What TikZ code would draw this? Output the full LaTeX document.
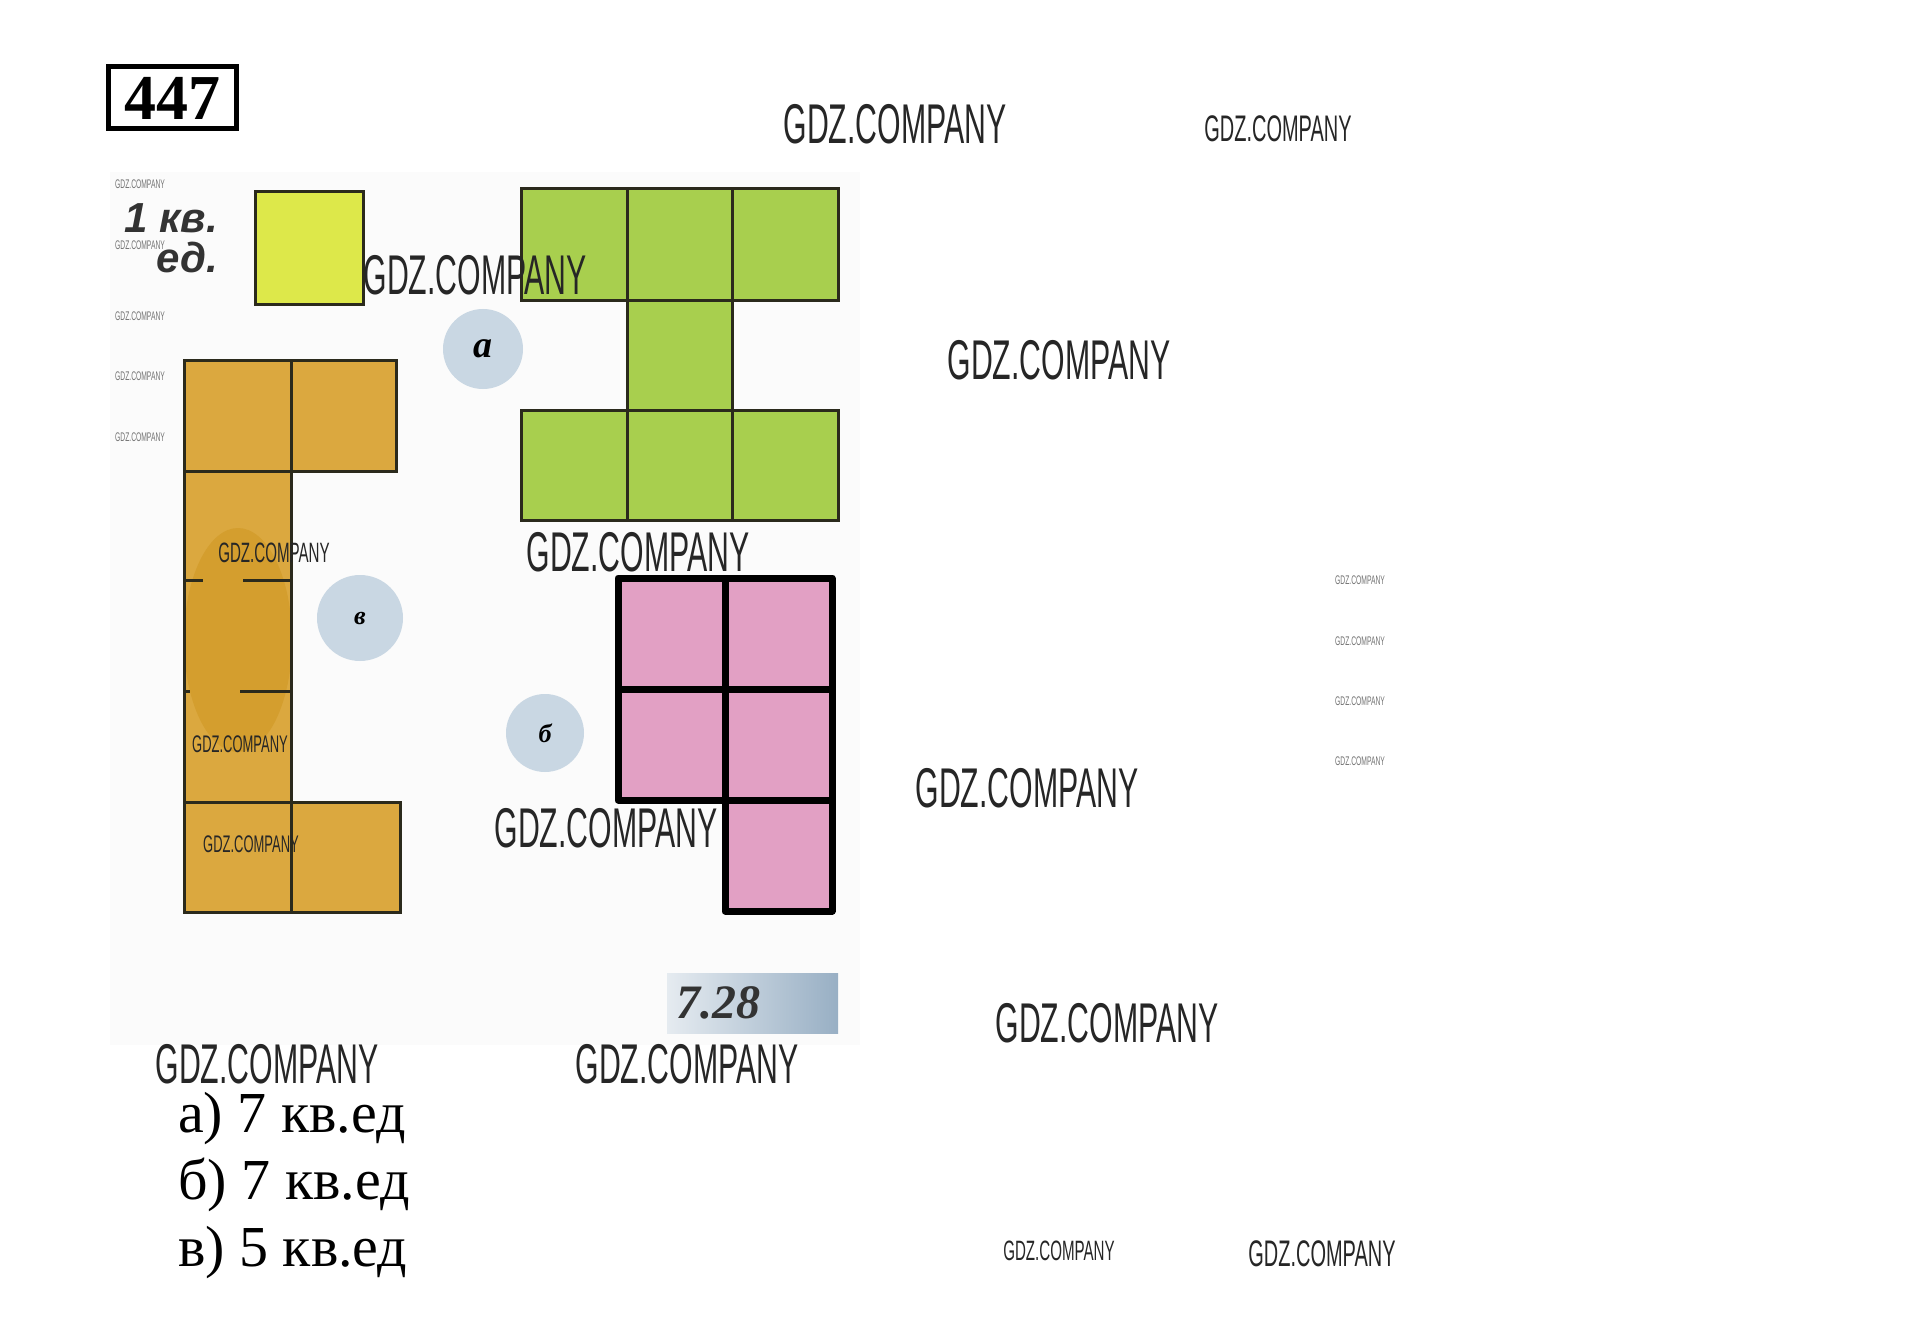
\documentclass[tikz,border=0pt]{standalone}
\usepackage{fontspec}
\setmainfont{Liberation Serif}
\newfontfamily\wmfont[FakeStretch=0.54]{Liberation Sans}
\newfontfamily\headsans{Liberation Sans}
\newcommand{\setfs}[1]{\fontsize{#1}{#1}\selectfont}
\definecolor{unitfill}{HTML}{DDE84A}
\definecolor{afill}{HTML}{A8CF4E}
\definecolor{vfill}{HTML}{DBA83F}
\definecolor{vblob}{HTML}{D49E2E}
\definecolor{bfill}{HTML}{E2A0C4}
\definecolor{tagfill}{HTML}{C9D7E3}
\definecolor{tagbar}{HTML}{98AFC4}
\definecolor{cellline}{HTML}{2B2A1C}

\begin{document}
\begin{tikzpicture}[x=1pt, y=-1pt,
    cell/.style = {draw=cellline, line width=3pt},
    bcell/.style = {draw=black, line width=7pt, line join=round},
    tagdot/.style = {circle, fill=tagfill, minimum size=#1, inner sep=0pt},
    wmbig/.style = {font=\wmfont\setfs{56}, text=black!85, inner sep=0pt},
    wmmid/.style = {font=\wmfont\setfs{37}, text=black!85, inner sep=0pt},
    wmsmall/.style = {font=\wmfont\setfs{28}, text=black!85, inner sep=0pt},
    wmless/.style = {font=\wmfont\setfs{24}, text=black!85, inner sep=0pt},
    wmtiny/.style = {font=\wmfont\setfs{12.5}, text=black!55, inner sep=0pt},
    answer/.style = {font=\setfs{58}, anchor=base west, inner sep=0pt}]
  \useasboundingbox (0,0) rectangle (1928,1340);
  \fill[white] (0,0) rectangle (1928,1340);
  \fill[black!1.5] (110,172) rectangle (860,1045);

  % number of the task
  \node[draw, line width=5pt, minimum width=128pt, minimum height=62pt,
        inner sep=0pt, font=\bfseries\setfs{64}] (task) at (172,98) {447};

  % unit square
  \node[anchor=base east, inner sep=0pt, text=black!80,
        font=\headsans\bfseries\itshape\setfs{42}] (unit1) at (218,233) {1 кв.};
  \node[anchor=base east, inner sep=0pt, text=black!80,
        font=\headsans\bfseries\itshape\setfs{42}] (unit2) at (218,273) {ед.};
  \filldraw[cell, fill=unitfill] (255,192) rectangle (363,305);

  % figure a
  \filldraw[cell, fill=afill] (521,189) rectangle (627,301);
  \filldraw[cell, fill=afill] (627,189) rectangle (732,301);
  \filldraw[cell, fill=afill] (732,189) rectangle (838,301);
  \filldraw[cell, fill=afill] (627,301) rectangle (732,410);
  \filldraw[cell, fill=afill] (521,410) rectangle (627,520);
  \filldraw[cell, fill=afill] (627,410) rectangle (732,520);
  \filldraw[cell, fill=afill] (732,410) rectangle (838,520);
  \node[tagdot=80pt, font=\bfseries\itshape\setfs{38}] (tagA) at (483,349) {а};

  % figure v
  \filldraw[cell, fill=vfill] (184,360) rectangle (291,471);
  \filldraw[cell, fill=vfill] (291,360) rectangle (396,471);
  \fill[vfill] (184,471) rectangle (291,802);
  \begin{scope}
    \clip (184,471) rectangle (291,802);
    \fill[vblob] (238,640) ellipse [x radius=54, y radius=112];
  \end{scope}
  \draw[cell] (184,471) rectangle (291,802);
  \draw[cell] (184,580) -- (203,580) (243,580) -- (291,580);
  \draw[cell] (184,691) -- (190,691) (240,691) -- (291,691);
  \filldraw[cell, fill=vfill] (184,802) rectangle (291,912);
  \filldraw[cell, fill=vfill] (291,802) rectangle (400,912);
  \node[tagdot=86pt, font=\bfseries\itshape\setfs{26}] (tagV) at (360,618) {в};

  % figure b
  \fill[bfill] (618,578) rectangle (832,800);
  \fill[bfill] (725,800) rectangle (832,911);
  \draw[bcell] (618,578) rectangle (832,800);
  \draw[bcell] (725,578) -- (725,911);
  \draw[bcell] (618,689) -- (832,689);
  \draw[bcell] (725,800) rectangle (832,911);
  \node[tagdot=78pt, font=\bfseries\itshape\setfs{26}] (tagB) at (545,733) {б};

  % caption of the picture
  \shade[left color=tagbar!25, right color=tagbar] (667,973) rectangle (838,1033);
  \node[font=\bfseries\itshape\setfs{48}, text=black!80] (fig) at (718,1003) {7.28};

  % answers
  \node[answer] (ansA) at (178,1132) {а) 7 кв.ед};
  \node[answer] (ansB) at (178,1199) {б) 7 кв.ед};
  \node[answer] (ansV) at (178,1266) {в) 5 кв.ед};

  % watermarks
  \node[wmbig] (wm1) at (895,124) {GDZ.COMPANY};
  \node[wmbig] (wm2) at (1059,360) {GDZ.COMPANY};
  \node[wmbig] (wm3) at (475,275) {GDZ.COMPANY};
  \node[wmbig] (wm4) at (638,552) {GDZ.COMPANY};
  \node[wmbig] (wm5) at (1027,788) {GDZ.COMPANY};
  \node[wmbig] (wm6) at (606,828) {GDZ.COMPANY};
  \node[wmbig] (wm7) at (1107,1023) {GDZ.COMPANY};
  \node[wmbig] (wm8) at (267,1064) {GDZ.COMPANY};
  \node[wmbig] (wm9) at (687,1064) {GDZ.COMPANY};
  \node[wmmid] (wm10) at (1278,129) {GDZ.COMPANY};
  \node[wmmid] (wm11) at (1322,1254) {GDZ.COMPANY};
  \node[wmsmall] (wm12) at (274,553) {GDZ.COMPANY};
  \node[wmless] (wm13) at (240,744) {GDZ.COMPANY};
  \node[wmless] (wm14) at (251,844) {GDZ.COMPANY};
  \node[wmsmall] (wm15) at (1059,1251) {GDZ.COMPANY};
  \node[wmtiny] (wm16) at (140,184) {GDZ.COMPANY};
  \node[wmtiny] (wm17) at (140,245) {GDZ.COMPANY};
  \node[wmtiny] (wm18) at (140,316) {GDZ.COMPANY};
  \node[wmtiny] (wm19) at (140,376) {GDZ.COMPANY};
  \node[wmtiny] (wm20) at (140,437) {GDZ.COMPANY};
  \node[wmtiny] (wm21) at (1360,580) {GDZ.COMPANY};
  \node[wmtiny] (wm22) at (1360,641) {GDZ.COMPANY};
  \node[wmtiny] (wm23) at (1360,701) {GDZ.COMPANY};
  \node[wmtiny] (wm24) at (1360,761) {GDZ.COMPANY};
\end{tikzpicture}
\end{document}
